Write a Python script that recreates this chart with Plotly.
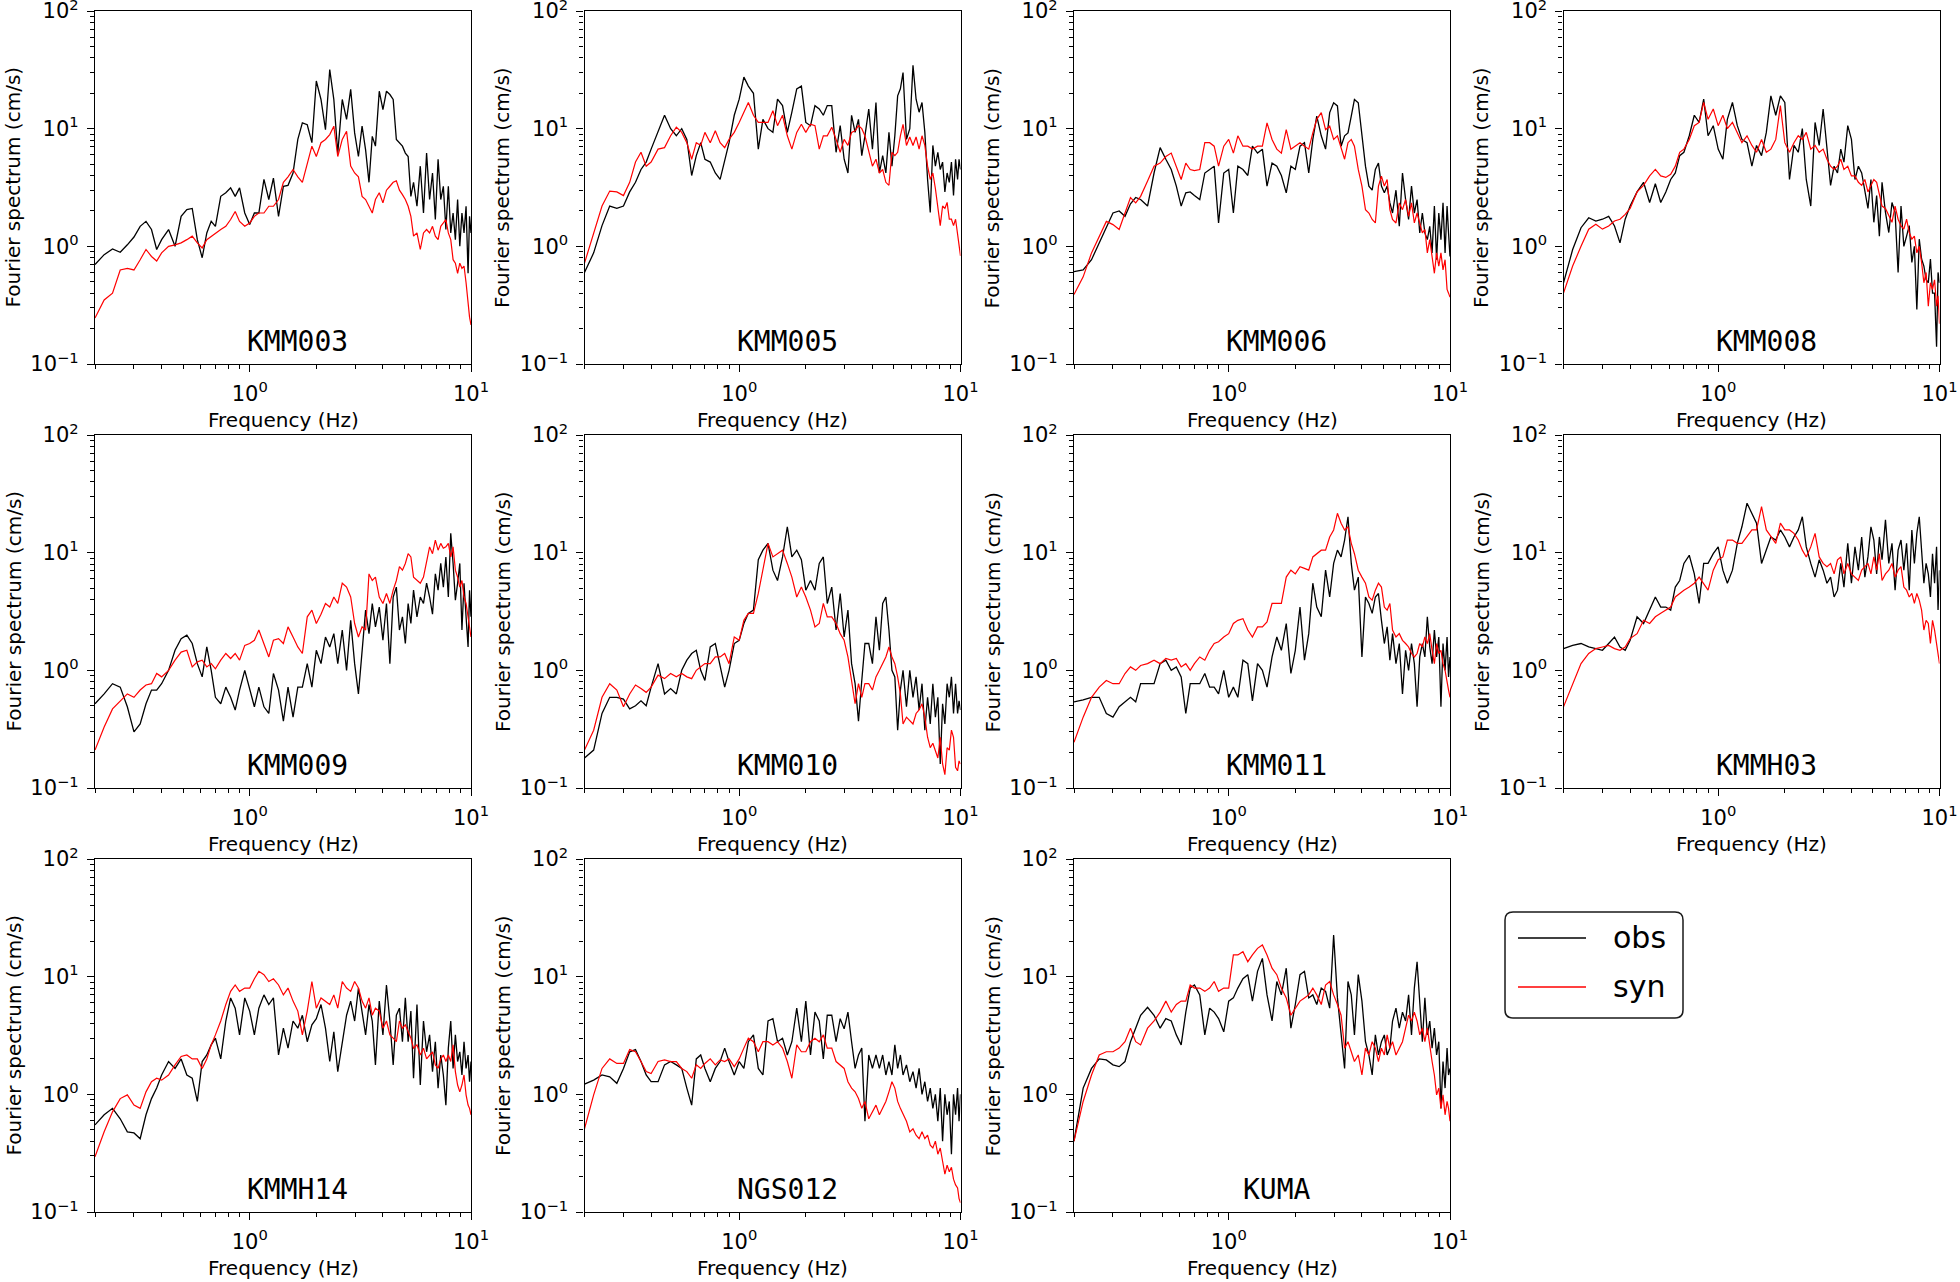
import math
import plotly.graph_objects as go

W, H = 1960, 1282

# ---------------- data ----------------
freq = [
    0.20, 0.22, 0.24, 0.26, 0.28, 0.30, 0.32, 0.34, 0.36, 0.38,
    0.40, 0.43, 0.46, 0.49, 0.52, 0.55, 0.58, 0.61, 0.64, 0.67,
    0.70, 0.74, 0.78, 0.82, 0.86, 0.90, 0.95, 1.00, 1.05, 1.10,
    1.16, 1.22, 1.28, 1.35, 1.42, 1.49, 1.57, 1.65, 1.73, 1.82,
    1.91, 2.00, 2.10, 2.20, 2.30, 2.40, 2.50, 2.62, 2.74, 2.86,
    2.98, 3.10, 3.22, 3.34, 3.46, 3.58, 3.70, 3.85, 4.00, 4.15,
    4.30, 4.45, 4.60, 4.75, 4.90, 5.05, 5.20, 5.35, 5.50, 5.70,
    5.90, 6.10, 6.30, 6.50, 6.70, 6.90, 7.10, 7.30, 7.50, 7.70,
    7.90, 8.10, 8.30, 8.50, 8.70, 8.90, 9.10, 9.30, 9.50, 9.70,
    9.85, 10.0]

stations = ["KMM003", "KMM005", "KMM006", "KMM008", "KMM009", "KMM010",
            "KMM011", "KMMH03", "KMMH14", "NGS012", "KUMA"]

obs_KMM003 = [
    0.70, 0.85, 0.95, 0.89, 1.03, 1.2, 1.48, 1.63, 1.39, 0.94,
    1.14, 1.39, 1.0, 1.8, 2.05, 2.1, 1.14, 0.8, 1.3, 1.63,
    1.48, 2.66, 2.85, 3.14, 2.66, 3.14, 1.92, 1.53, 1.92, 1.92,
    3.7, 2.5, 3.8, 1.8, 3.24, 3.3, 4.2, 8.1, 11.2, 10.8,
    7.6, 25.4, 17.7, 9.8, 31.8, 17.7, 6.2, 17.7, 12, 21.6,
    9.2, 5.8, 10.5, 6.6, 3.5, 8.6, 7.1, 20.8, 14.5, 20.8,
    19.5, 17.7, 8.1, 7.6, 7.1, 6.2, 5.8, 2.66, 3.5, 2.19,
    4.8, 1.92, 6.2, 2.5, 4.2, 1.69, 5.5, 2.5, 3.24, 1.39,
    3.24, 1.3, 1.92, 1.14, 2.5, 1.0, 1.92, 1.3, 2.19, 0.59,
    1.8, 1.3]
syn_KMM003 = [
    0.246, 0.35, 0.4, 0.63, 0.65, 0.63, 0.77, 0.94, 0.82, 0.75,
    0.88, 1.0, 1.03, 1.07, 1.14, 1.22, 1.07, 0.97, 1.14, 1.22,
    1.3, 1.39, 1.48, 1.69, 1.98, 1.63, 1.48, 1.58, 1.8, 1.92,
    1.92, 2.19, 2.19, 2.5, 3.5, 3.9, 4.5, 3.9, 3.5, 5.1,
    7.1, 5.8, 7.6, 8.1, 8.9, 10.5, 5.8, 8.1, 9.5, 4.8,
    4.2, 3.9, 2.66, 2.5, 2.19, 1.92, 2.5, 2.85, 2.34, 3.0,
    3.24, 3.5, 3.6, 3.0, 2.75, 2.5, 2.19, 1.8, 1.22, 1.3,
    0.94, 1.3, 1.39, 1.3, 1.48, 1.22, 1.14, 1.48, 1.58, 1.69,
    1.3, 1.14, 0.77, 0.72, 0.59, 0.72, 0.65, 0.68, 0.49, 0.31,
    0.25, 0.215]

obs_KMM005 = [
    0.6, 0.88, 1.5, 2.2, 2.1, 2.2, 2.9, 3.5, 4.5, 5.2,
    6.7, 9.3, 13, 10, 8.7, 10, 8.1, 4.0, 5.9, 7.6,
    5.5, 5.2, 4.2, 3.7, 5.5, 7.6, 13, 17.8, 27.4, 23,
    20, 6.7, 12, 10, 9.3, 17.8, 15.7, 9.3, 13.8, 21.8,
    23, 11.3, 10.6, 15.7, 14.7, 13, 15.7, 15.7, 6.3, 10.6,
    5.5, 4.2, 13, 9.3, 12, 5.9, 8.7, 14.7, 6.7, 16.7,
    4.2, 5.9, 4.2, 9.3, 4.8, 8.7, 19, 21.8, 30, 8.1,
    10, 34.5, 17.8, 13.8, 16.7, 9.3, 3.7, 1.94, 7.2, 4.8,
    6.3, 4.5, 5.2, 2.9, 4.2, 3.5, 5.2, 2.7, 5.5, 3.7,
    5.5, 4.5]
syn_KMM005 = [
    0.72, 1.3, 2.2, 2.95, 2.9, 2.7, 3.5, 5.2, 6.3, 4.8,
    5.2, 6.7, 6.9, 8.7, 10.3, 9.3, 7.6, 5.5, 7.6, 7.2,
    9.3, 7.6, 9.6, 7.6, 6.9, 8.1, 9.3, 11.3, 13.8, 16.7,
    13, 11.3, 11.3, 11.3, 14.2, 10.6, 13, 8.7, 6.7, 9.3,
    10.9, 9.3, 10.9, 10.6, 6.7, 8.7, 8.7, 10.3, 8.1, 6.3,
    8.1, 7.2, 9.3, 9.6, 10.6, 10, 8.7, 6.3, 4.8, 5.5,
    4.2, 4.5, 3.5, 3.3, 6.3, 5.9, 6.3, 8.7, 10.9, 7.2,
    8.5, 7.2, 8.5, 6.7, 8.7, 7.2, 4.8, 3.7, 4.2, 3.1,
    2.2, 1.5, 2.2, 2.1, 2.36, 1.7, 1.7, 1.5, 1.7, 1.22,
    1.07, 0.83]

obs_KMM006 = [
    0.61, 0.63, 0.77, 1.07, 1.48, 1.92, 2.0, 1.8, 2.3, 2.6,
    2.5, 2.2, 4.2, 6.9, 5.5, 4.5, 3.25, 2.2, 2.85, 2.9,
    2.7, 2.5, 4.2, 4.5, 4.8, 1.58, 4.2, 4.5, 1.92, 4.8,
    4.5, 4.0, 7.1, 6.2, 6.7, 3.25, 5.1, 4.8, 4.0, 2.85,
    4.8, 4.5, 7.1, 7.6, 4.2, 8.1, 12.8, 8.7, 6.7, 13.7,
    16.6, 15.6, 7.1, 8.7, 9.2, 12.8, 17.7, 16.6, 9.2, 4.8,
    3.25, 3.0, 4.5, 5.1, 3.25, 2.85, 3.25, 2.34, 1.92, 3.0,
    1.48, 4.2, 2.5, 1.69, 3.25, 1.92, 2.5, 1.3, 1.92, 1.3,
    1.14, 1.48, 0.88, 2.2, 0.77, 1.92, 1.14, 2.34, 0.88, 2.2,
    1.3, 0.82]
syn_KMM006 = [
    0.39, 0.55, 0.88, 1.22, 1.63, 1.53, 1.39, 1.92, 2.6, 2.34,
    2.66, 3.6, 4.8, 5.1, 5.8, 6.2, 4.8, 3.7, 5.1, 4.5,
    4.4, 4.5, 7.6, 7.6, 7.1, 4.8, 7.1, 8.1, 6.2, 8.7,
    7.1, 7.1, 6.7, 7.1, 7.1, 11.2, 8.1, 6.7, 6.2, 9.8,
    6.7, 7.1, 7.6, 7.1, 6.7, 9.2, 12, 13.7, 9.8, 10.5,
    8.1, 8.7, 6.7, 5.5, 7.6, 8.1, 7.1, 4.5, 3.25, 2.05,
    1.92, 1.69, 1.58, 3.25, 3.95, 3.25, 3.7, 2.05, 1.69, 1.58,
    2.34, 2.05, 2.5, 1.8, 2.34, 1.58, 1.92, 1.58, 1.3, 1.39,
    0.88, 1.14, 0.77, 0.59, 0.88, 0.68, 0.88, 0.63, 0.77, 0.43,
    0.4, 0.37]

obs_KMM008 = [
    0.49, 0.94, 1.44, 1.75, 1.64, 1.7, 1.8, 1.49, 1.07, 1.7,
    2.2, 2.9, 3.5, 2.36, 3.4, 2.36, 2.9, 3.7, 4.2, 5.9,
    6.3, 8.7, 13, 11.3, 17.8, 8.7, 10.6, 6.7, 5.5, 12,
    16.7, 10.6, 8.1, 7.6, 4.8, 7.2, 5.9, 9.3, 19, 13,
    19, 16.7, 3.7, 7.2, 6.3, 10, 3.7, 2.2, 11.3, 7.2,
    14.7, 7.2, 3.3, 4.8, 4.2, 6.7, 5.2, 10.6, 8.1, 3.7,
    4.8, 4.2, 2.9, 2.1, 3.7, 1.6, 2.7, 1.22, 3.5, 1.94,
    1.31, 2.36, 1.94, 0.6, 2.2, 1.0, 1.22, 1.5, 0.73, 1.0,
    0.29, 1.15, 0.78, 0.68, 0.52, 0.49, 0.78, 0.40, 0.40, 0.14,
    0.6, 0.49]
syn_KMM008 = [
    0.40, 0.68, 1.0, 1.4, 1.54, 1.4, 1.49, 1.64, 1.7, 1.87,
    2.1, 2.9, 3.3, 3.97, 4.5, 3.97, 3.85, 4.1, 4.8, 6.3,
    6.7, 8.1, 10.6, 11.3, 16.7, 12, 14.7, 10.6, 13, 10,
    11.3, 9.3, 7.6, 8.7, 7.2, 6.3, 8.1, 6.3, 6.7, 8.1,
    15.7, 7.6, 6.3, 7.6, 8.7, 8.1, 9.3, 6.7, 7.2, 6.3,
    6.7, 5.5, 4.8, 4.5, 4.8, 5.5, 4.5, 4.8, 3.97, 3.97,
    3.5, 3.3, 3.7, 2.9, 3.3, 3.7, 3.5, 2.7, 2.2, 2.1,
    1.8, 1.6, 2.2, 1.7, 1.49, 1.4, 1.7, 1.31, 1.15, 1.22,
    0.88, 1.0, 0.73, 0.49, 0.6, 0.31, 0.49, 0.43, 0.52, 0.31,
    0.38, 0.22]

obs_KMM009 = [
    0.52, 0.63, 0.77, 0.72, 0.49, 0.30, 0.35, 0.52, 0.68, 0.68,
    0.77, 1.0, 1.48, 1.86, 1.99, 1.69, 1.14, 0.88, 1.58, 1.0,
    0.59, 0.52, 0.72, 0.59, 0.46, 0.68, 1.0, 0.68, 0.49, 0.72,
    0.49, 0.43, 0.94, 0.68, 0.37, 0.72, 0.40, 0.72, 0.72, 1.14,
    0.72, 1.48, 1.14, 1.92, 1.58, 2.05, 1.14, 2.2, 1.0, 2.66,
    1.14, 0.63, 1.58, 3.25, 2.05, 3.7, 2.34, 3.45, 1.8, 3.7,
    1.14, 4.2, 5.1, 2.2, 2.85, 1.69, 3.7, 2.5, 4.8, 2.85,
    4.2, 3.7, 5.5, 4.2, 3.0, 6.6, 4.8, 8.1, 5.1, 9.2,
    4.2, 14.6, 8.1, 3.95, 5.5, 8.1, 2.2, 5.5, 2.85, 1.58,
    4.8, 2.85]
syn_KMM009 = [
    0.21, 0.33, 0.47, 0.55, 0.63, 0.59, 0.68, 0.75, 0.77, 0.94,
    0.88, 1.0, 1.22, 1.43, 1.48, 1.07, 1.18, 1.22, 1.07, 1.14,
    1.03, 1.22, 1.39, 1.26, 1.39, 1.22, 1.63, 1.69, 1.8, 2.2,
    1.69, 1.3, 1.8, 1.86, 1.69, 2.34, 1.92, 1.58, 1.39, 2.85,
    3.25, 2.5, 3.0, 3.7, 3.45, 4.2, 3.7, 5.5, 5.1, 4.2,
    2.5, 1.92, 2.34, 2.2, 6.6, 5.8, 6.2, 4.2, 3.7, 4.5,
    3.7, 4.8, 5.8, 7.6, 7.1, 8.1, 9.8, 9.2, 6.2, 5.8,
    5.5, 6.2, 8.7, 11.2, 9.8, 12.8, 10.5, 12, 10.9, 11.2,
    12, 9.2, 11.2, 7.1, 6.2, 5.1, 5.8, 4.2, 3.7, 2.85,
    2.2, 1.92]

obs_KMM010 = [
    0.18, 0.21, 0.43, 0.59, 0.59, 0.57, 0.47, 0.50, 0.55, 0.50,
    0.72, 1.14, 0.63, 0.70, 0.63, 1.0, 1.22, 1.39, 1.48, 1.0,
    0.82, 1.58, 1.69, 1.07, 0.72, 1.0, 1.69, 1.8, 2.5, 3.05,
    3.25, 8.7, 10.5, 12, 7.1, 5.8, 9.2, 16.6, 9.2, 10.5,
    8.7, 4.8, 5.8, 4.8, 8.1, 9.2, 3.7, 5.1, 2.2, 4.5,
    1.92, 3.25, 1.14, 0.77, 0.37, 0.82, 1.69, 1.69, 1.14, 2.85,
    1.48, 3.7, 4.2, 2.2, 1.0, 0.88, 0.31, 0.68, 1.0, 0.49,
    1.0, 0.59, 0.88, 0.46, 0.77, 0.31, 0.59, 0.35, 0.77, 0.40,
    0.59, 0.16, 0.52, 0.35, 0.77, 0.59, 0.88, 0.43, 0.77, 0.43,
    0.55, 0.46]
syn_KMM010 = [
    0.21, 0.31, 0.59, 0.77, 0.68, 0.49, 0.63, 0.75, 0.70, 0.65,
    0.72, 0.91, 0.85, 0.94, 0.88, 0.94, 0.88, 0.85, 1.0, 1.07,
    1.14, 1.14, 1.3, 1.3, 1.39, 1.14, 1.92, 1.8, 2.66, 3.05,
    3.05, 4.5, 7.1, 12, 9.2, 9.8, 10.5, 8.1, 6.2, 4.2,
    5.1, 4.2, 3.25, 2.34, 2.5, 3.7, 2.85, 2.85, 2.5, 2.05,
    1.8, 1.3, 0.82, 0.52, 0.77, 0.59, 0.77, 0.77, 0.68, 0.88,
    1.0, 1.14, 1.3, 1.58, 1.3, 1.14, 0.88, 0.63, 0.35, 0.40,
    0.37, 0.35, 0.43, 0.46, 0.52, 0.40, 0.27, 0.22, 0.24, 0.21,
    0.18, 0.27, 0.16, 0.13, 0.22, 0.21, 0.31, 0.27, 0.15, 0.14,
    0.17, 0.16]

obs_KMM011 = [
    0.54, 0.56, 0.59, 0.59, 0.43, 0.40, 0.49, 0.54, 0.59, 0.54,
    0.77, 0.77, 0.77, 1.14, 1.22, 1.0, 1.07, 0.88, 0.43, 0.77,
    0.77, 0.77, 0.94, 0.72, 0.72, 0.63, 1.0, 0.59, 0.72, 0.59,
    1.22, 1.14, 0.55, 1.14, 1.0, 0.72, 1.3, 1.92, 1.48, 2.5,
    0.94, 1.48, 3.45, 1.22, 2.05, 5.5, 3.45, 2.85, 7.1, 4.2,
    8.1, 10.5, 9.2, 12.8, 20.2, 8.1, 4.8, 6.2, 1.3, 4.2,
    3.7, 3.05, 4.2, 4.5, 2.66, 1.69, 2.34, 1.22, 2.05, 1.14,
    1.69, 0.63, 1.48, 1.0, 1.69, 1.14, 0.49, 1.3, 1.69, 1.3,
    2.85, 1.58, 1.14, 2.2, 1.3, 1.92, 0.49, 1.69, 1.0, 1.92,
    0.88, 1.3]
syn_KMM011 = [
    0.245, 0.40, 0.59, 0.72, 0.82, 0.77, 0.77, 0.94, 1.07, 1.0,
    1.10, 1.14, 1.22, 1.14, 1.26, 1.22, 1.26, 1.07, 1.14, 1.0,
    1.14, 1.3, 1.22, 1.48, 1.69, 1.75, 1.92, 2.05, 2.5, 2.66,
    2.75, 2.2, 1.92, 2.34, 2.34, 2.58, 3.7, 3.7, 3.7, 6.2,
    7.1, 6.6, 7.6, 7.35, 7.1, 9.2, 9.8, 10.5, 10.5, 13.6,
    15.6, 21.6, 17.8, 15.6, 16.6, 12, 9.8, 7.1, 6.2, 5.5,
    4.2, 3.95, 4.8, 5.5, 5.1, 3.45, 3.25, 3.7, 2.2, 1.92,
    2.05, 1.8, 1.69, 1.58, 1.39, 1.3, 1.39, 1.69, 1.58, 1.92,
    1.69, 2.05, 1.48, 1.14, 1.69, 1.39, 1.48, 1.14, 1.0, 0.77,
    0.68, 0.59]

obs_KMMH03 = [
    1.53, 1.63, 1.69, 1.58, 1.53, 1.48, 1.69, 1.92, 1.58, 1.48,
    1.8, 2.85, 2.5, 3.25, 4.2, 3.45, 3.45, 3.25, 5.1, 5.8,
    8.1, 9.5, 6.6, 3.7, 8.1, 8.1, 9.8, 11.2, 7.1, 5.5,
    7.1, 12, 16.6, 26.3, 21.6, 17.8, 8.1, 10.5, 13.6, 12.8,
    15.6, 13.6, 11.2, 13.6, 15.6, 20.2, 11.2, 8.1, 6.2, 8.7,
    7.1, 5.5, 6.2, 4.2, 4.8, 8.1, 5.1, 12, 5.5, 11.2,
    7.1, 13.6, 6.2, 9.2, 16.6, 12.8, 6.6, 13.6, 8.7, 19,
    8.1, 12, 4.8, 10.5, 12.8, 7.1, 12, 4.8, 15.6, 8.1,
    14.6, 20.2, 11.2, 5.5, 8.1, 6.6, 4.2, 9.8, 5.5, 11.2,
    3.25, 7.1]
syn_KMMH03 = [
    0.49, 0.77, 1.14, 1.39, 1.53, 1.58, 1.63, 1.53, 1.48, 1.58,
    1.86, 2.05, 2.66, 2.5, 2.85, 3.05, 3.25, 3.45, 4.2, 4.5,
    4.8, 5.1, 5.5, 6.2, 5.5, 4.8, 7.1, 8.7, 9.2, 12.8,
    12.8, 12, 12, 13.6, 15.6, 15.6, 24.6, 15.6, 13.6, 12,
    17.8, 15.6, 15.6, 14.6, 12.8, 10.5, 9.2, 11.2, 14.6, 9.2,
    8.1, 7.6, 8.1, 6.6, 8.7, 9.2, 6.6, 8.1, 6.6, 6.2,
    5.8, 7.1, 7.6, 8.1, 6.6, 9.2, 7.1, 9.8, 5.8, 6.6,
    7.1, 8.1, 6.2, 7.1, 7.6, 5.1, 4.8, 4.2, 4.5, 3.7,
    4.5, 3.95, 3.25, 2.2, 2.66, 2.5, 1.69, 2.66, 2.2, 1.69,
    1.48, 1.14]

obs_KMMH14 = [
    0.55, 0.67, 0.76, 0.62, 0.48, 0.47, 0.42, 0.67, 0.92, 1.13,
    1.46, 1.9, 1.66, 2.0, 1.46, 1.37, 0.87, 1.9, 2.16, 2.63,
    3.0, 2.0, 4.2, 6.6, 5.4, 3.2, 6.6, 5.1, 3.2, 5.4,
    7.0, 5.8, 6.6, 2.16, 3.65, 2.47, 4.2, 3.65, 4.7, 2.8,
    3.9, 4.4, 5.8, 3.65, 1.9, 3.4, 1.56, 2.63, 4.7, 6.2,
    4.2, 8.0, 5.1, 3.2, 5.8, 4.2, 1.78, 6.2, 3.2, 8.5,
    4.2, 1.78, 4.7, 5.4, 2.8, 6.6, 2.8, 5.1, 1.37, 5.8,
    1.2, 4.2, 2.3, 3.2, 1.56, 2.8, 1.13, 2.16, 1.46, 0.81,
    2.47, 4.2, 1.66, 3.2, 1.9, 2.3, 1.46, 2.8, 1.66, 2.16,
    1.28, 1.9]
syn_KMMH14 = [
    0.295, 0.48, 0.71, 0.92, 0.99, 0.81, 0.76, 1.05, 1.28, 1.37,
    1.32, 1.46, 1.78, 2.1, 2.16, 2.0, 2.0, 1.66, 2.0, 2.63,
    3.2, 4.2, 5.8, 7.5, 8.5, 7.5, 8.0, 8.0, 9.6, 11.1,
    10.4, 9.1, 9.6, 8.5, 7.0, 8.0, 6.2, 5.1, 3.2, 5.1,
    9.1, 5.4, 6.6, 6.2, 5.8, 7.0, 5.4, 9.1, 8.0, 7.5,
    9.1, 8.0, 6.2, 5.4, 6.6, 4.7, 5.4, 5.1, 3.65, 4.2,
    3.2, 3.0, 2.8, 4.2, 3.65, 3.9, 3.4, 3.0, 2.47, 2.63,
    2.16, 2.47, 2.0, 2.16, 2.3, 1.78, 1.66, 2.0, 2.16, 1.9,
    2.16, 1.9, 2.63, 1.56, 1.2, 1.05, 1.2, 1.46, 0.99, 0.81,
    0.76, 0.67]

obs_NGS012 = [
    1.22, 1.32, 1.46, 1.41, 1.24, 1.66, 2.3, 2.4, 1.9, 1.46,
    1.28, 1.28, 1.78, 1.9, 1.78, 1.66, 1.13, 0.81, 2.0, 2.16,
    1.66, 1.28, 1.66, 1.9, 2.47, 1.9, 1.46, 1.9, 1.66, 2.8,
    3.2, 1.66, 1.46, 4.2, 4.4, 2.8, 3.0, 2.16, 2.8, 5.4,
    2.8, 6.2, 2.16, 5.0, 4.2, 2.0, 4.7, 4.7, 2.8, 4.4,
    3.6, 5.0, 2.8, 1.66, 2.16, 2.47, 0.59, 2.16, 1.66, 2.16,
    1.66, 2.16, 1.46, 1.9, 1.46, 2.63, 1.66, 2.16, 1.46, 1.78,
    1.28, 1.56, 1.13, 1.66, 1.0, 1.28, 0.87, 1.13, 0.76, 1.0,
    0.59, 1.13, 0.40, 1.0, 0.67, 0.87, 0.31, 1.0, 0.67, 1.13,
    0.59, 1.0]
syn_NGS012 = [
    0.51, 0.99, 1.66, 2.0, 1.83, 1.83, 2.4, 2.3, 1.9, 1.56,
    1.5, 1.9, 1.96, 1.9, 1.9, 1.66, 1.56, 1.37, 1.78, 1.66,
    1.83, 2.0, 1.78, 1.96, 1.9, 2.0, 1.72, 2.0, 2.47, 3.0,
    2.8, 2.3, 2.8, 2.8, 2.63, 2.8, 2.47, 1.9, 1.37, 2.63,
    2.3, 2.3, 2.8, 3.0, 2.8, 3.2, 2.47, 2.47, 1.9, 1.78,
    1.66, 1.28, 1.13, 1.05, 0.92, 0.76, 0.87, 0.62, 0.71, 0.81,
    0.67, 0.76, 0.87, 1.05, 1.28, 1.13, 0.87, 0.76, 0.67, 0.59,
    0.48, 0.51, 0.45, 0.42, 0.48, 0.42, 0.45, 0.37, 0.35, 0.40,
    0.31, 0.35, 0.27, 0.21, 0.25, 0.22, 0.24, 0.19, 0.17, 0.16,
    0.13, 0.12]

obs_KUMA = [
    0.40, 1.13, 1.66, 2.0, 1.96, 1.78, 1.72, 1.9, 2.8, 3.65,
    4.7, 5.5, 4.7, 3.65, 4.4, 4.2, 3.2, 2.63, 5.0, 8.0,
    8.5, 7.0, 3.2, 5.4, 5.0, 4.4, 3.4, 6.2, 6.6, 8.0,
    9.6, 10.4, 6.2, 11.1, 14.3, 7.0, 4.2, 9.1, 7.0, 11.8,
    3.65, 5.8, 10.4, 11.1, 6.6, 7.0, 5.8, 8.0, 7.5, 5.4,
    22.6, 6.6, 3.4, 1.66, 9.1, 7.0, 3.2, 10.4, 6.2, 2.8,
    2.16, 1.46, 3.2, 2.16, 2.8, 3.2, 2.16, 2.47, 4.2, 5.4,
    3.65, 5.0, 4.2, 7.0, 3.2, 8.0, 13.4, 5.8, 2.8, 6.6,
    3.2, 4.2, 2.47, 3.65, 2.16, 2.8, 0.76, 1.9, 1.13, 2.47,
    1.46, 1.66]
syn_KUMA = [
    0.40, 0.87, 1.46, 2.16, 2.3, 2.3, 2.47, 2.8, 3.65, 2.8,
    2.63, 3.65, 4.2, 5.0, 6.2, 5.0, 5.8, 6.2, 6.2, 8.5,
    8.0, 8.0, 7.5, 8.0, 9.1, 7.5, 8.0, 8.0, 15.3, 15.3,
    16.3, 13.4, 15.3, 17.4, 18.6, 15.3, 11.8, 10.4, 8.0, 6.6,
    4.7, 5.4, 6.2, 6.6, 7.0, 8.0, 7.0, 5.8, 8.5, 9.1,
    7.0, 5.8, 4.7, 2.47, 2.8, 2.3, 1.9, 2.16, 1.46, 2.47,
    2.16, 2.8, 2.47, 1.9, 2.47, 2.16, 3.2, 2.47, 2.8, 2.16,
    2.47, 2.8, 3.65, 4.7, 4.2, 5.0, 4.2, 3.2, 3.65, 2.8,
    3.65, 2.47, 1.9, 1.46, 0.99, 1.13, 0.76, 0.99, 0.67, 0.87,
    0.76, 0.59]

obs_data = {
    "KMM003": obs_KMM003, "KMM005": obs_KMM005, "KMM006": obs_KMM006,
    "KMM008": obs_KMM008, "KMM009": obs_KMM009, "KMM010": obs_KMM010,
    "KMM011": obs_KMM011, "KMMH03": obs_KMMH03, "KMMH14": obs_KMMH14,
    "NGS012": obs_NGS012, "KUMA": obs_KUMA}
syn_data = {
    "KMM003": syn_KMM003, "KMM005": syn_KMM005, "KMM006": syn_KMM006,
    "KMM008": syn_KMM008, "KMM009": syn_KMM009, "KMM010": syn_KMM010,
    "KMM011": syn_KMM011, "KMMH03": syn_KMMH03, "KMMH14": syn_KMMH14,
    "NGS012": syn_NGS012, "KUMA": syn_KUMA}

y_tickvals = [0.1, 1, 10, 100]
y_ticktext = ["10<sup>\u22121</sup>", "10<sup>0</sup>", "10<sup>1</sup>", "10<sup>2</sup>"]
x_tickvals = [1, 10]
x_ticktext = ["10<sup>0</sup>", "10<sup>1</sup>"]
series_names = ["obs", "syn"]
series_colors = ["#000000", "#ff0000"]

# ---------------- layout geometry (pixels) ----------------
col_left = [95, 584.5, 1074, 1563.5]
row_top = [11, 435, 859]
PW, PH = 376, 353

FONT = "DejaVu Sans"
MONO = "DejaVu Sans Mono"

minor_x = [m * 10 ** e for e in (-1, 0) for m in range(2, 10)]
minor_y = [m * 10 ** e for e in (-1, 0, 1) for m in range(2, 10)]

fig = go.Figure()
annotations = []
layout_axes = {}

for i, st in enumerate(stations):
    r, c = divmod(i, 4)
    n = i + 1
    xs = "" if n == 1 else str(n)
    left = col_left[c]
    top = row_top[r]
    x0, x1 = left / W, (left + PW) / W
    y0, y1 = 1 - (top + PH) / H, 1 - top / H

    fig.add_trace(go.Scatter(x=freq, y=obs_data[st], mode="lines",
                             line=dict(color=series_colors[0], width=1.3),
                             name=series_names[0], showlegend=False,
                             xaxis="x" + xs, yaxis="y" + xs))
    fig.add_trace(go.Scatter(x=freq, y=syn_data[st], mode="lines",
                             line=dict(color=series_colors[1], width=1.2),
                             name=series_names[1], showlegend=False,
                             xaxis="x" + xs, yaxis="y" + xs))

    common = dict(showline=True, linecolor="black", linewidth=1.2, mirror=True,
                  ticks="outside", ticklen=7, tickwidth=1.2, tickcolor="black",
                  showgrid=False, zeroline=False, type="log", automargin=False,
                  tickfont=dict(family=FONT, size=21, color="black"),
                  ticklabelstandoff=4, ticklabeloverflow="allow")
    layout_axes["xaxis" + xs] = dict(
        common, domain=[x0, x1], anchor="y" + xs,
        range=[math.log10(0.2), 1], tickmode="array",
        tickvals=x_tickvals, ticktext=x_ticktext,
        minor=dict(ticks="outside", ticklen=4, tickwidth=1, tickcolor="black",
                   tickmode="array", tickvals=minor_x))
    layout_axes["yaxis" + xs] = dict(
        common, domain=[y0, y1], anchor="x" + xs,
        range=[-1, 2], tickmode="array",
        tickvals=y_tickvals, ticktext=y_ticktext,
        minor=dict(ticks="outside", ticklen=4, tickwidth=1, tickcolor="black",
                   tickmode="array", tickvals=minor_y))

    # station name
    annotations.append(dict(text=st, xref="x" + xs + " domain", yref="y" + xs + " domain",
                            x=0.539, y=0.063, xanchor="center", yanchor="middle",
                            showarrow=False, font=dict(family=MONO, size=28, color="black")))
    # axis titles
    annotations.append(dict(text="Frequency (Hz)", xref="paper", yref="paper",
                            x=(left + PW / 2) / W, y=1 - (top + PH + 56) / H,
                            xanchor="center", yanchor="middle", showarrow=False,
                            font=dict(family=FONT, size=20, color="black")))
    annotations.append(dict(text="Fourier spectrum (cm/s)", xref="paper", yref="paper",
                            x=(left - 82) / W, y=1 - (top + PH / 2) / H,
                            xanchor="center", yanchor="middle", textangle=-90,
                            showarrow=False,
                            font=dict(family=FONT, size=20, color="black")))

# ---------------- legend (drawn) ----------------
def px(x):
    return x / W

def py(y):
    return 1 - y / H

lx0, lx1, ly0, ly1 = 1505, 1683, 912, 1018
rad = 8
path = (f"M {px(lx0 + rad)},{py(ly0)} L {px(lx1 - rad)},{py(ly0)} "
        f"Q {px(lx1)},{py(ly0)} {px(lx1)},{py(ly0 + rad)} "
        f"L {px(lx1)},{py(ly1 - rad)} Q {px(lx1)},{py(ly1)} {px(lx1 - rad)},{py(ly1)} "
        f"L {px(lx0 + rad)},{py(ly1)} Q {px(lx0)},{py(ly1)} {px(lx0)},{py(ly1 - rad)} "
        f"L {px(lx0)},{py(ly0 + rad)} Q {px(lx0)},{py(ly0)} {px(lx0 + rad)},{py(ly0)} Z")
shapes = [dict(type="path", path=path, xref="paper", yref="paper",
               line=dict(color="#1a1a1a", width=1.5), fillcolor="white", layer="above")]
for k, (nm, colr) in enumerate(zip(series_names, series_colors)):
    yy = 938 + k * 49
    shapes.append(dict(type="line", xref="paper", yref="paper",
                       x0=px(1518), x1=px(1586), y0=py(yy), y1=py(yy),
                       line=dict(color=colr, width=1.3), layer="above"))
    annotations.append(dict(text=nm, xref="paper", yref="paper",
                            x=px(1611), y=py(yy - 1), xanchor="left", yanchor="middle",
                            showarrow=False, font=dict(family=FONT, size=30, color="black")))

fig.update_layout(
    width=W, height=H, autosize=False,
    margin=dict(l=0, r=0, t=0, b=0, pad=0),
    paper_bgcolor="white", plot_bgcolor="white",
    showlegend=False,
    annotations=annotations, shapes=shapes,
    **layout_axes)

fig.write_html("out.html", config={"displayModeBar": False},
               post_script="document.body.style.margin='0';document.body.style.overflow='hidden';")
